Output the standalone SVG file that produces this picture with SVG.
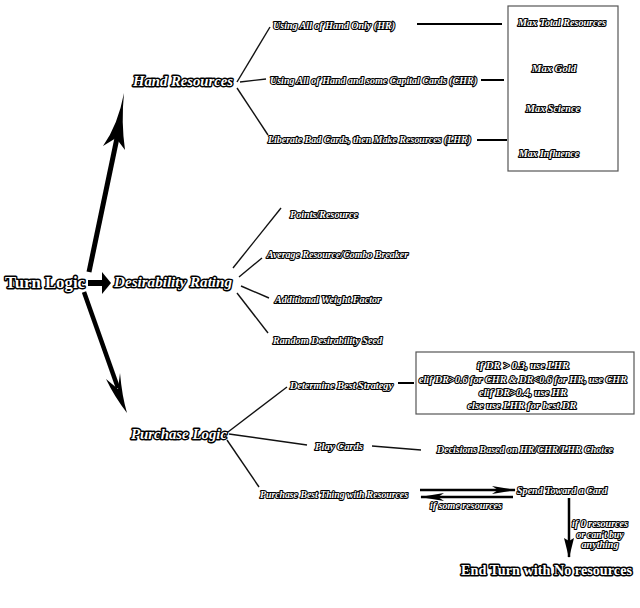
<svg xmlns="http://www.w3.org/2000/svg" width="640" height="608" viewBox="0 0 640 608">
<style>
text{font-family:"Liberation Serif","DejaVu Serif",serif;font-weight:bold;fill:#fff;stroke:#000;paint-order:stroke;stroke-linejoin:round}
.big{font-size:17.5px;stroke-width:3}
.mid{font-size:15px;font-style:italic;stroke-width:2.8}
.sm{font-size:10.5px;font-style:italic;stroke-width:2.2}
.c{text-anchor:middle}
.ln{stroke:#111;stroke-width:1.4;fill:none}
.lnb{stroke:#000;stroke-width:2;fill:none}
.box{fill:#fff;stroke:#555;stroke-width:1.2}
</style>
<defs>
<marker id="barb" viewBox="0 0 24 8" refX="23" refY="4" markerUnits="userSpaceOnUse" markerWidth="24" markerHeight="8" orient="auto">
<path d="M0,0 L24,4 L0,8 L6,4 Z" fill="#000"/>
</marker>
<marker id="barbd" viewBox="0 0 20 10" refX="19" refY="5" markerUnits="userSpaceOnUse" markerWidth="20" markerHeight="10" orient="auto">
<path d="M0,0 L20,5 L0,10 L3,5 Z" fill="#000"/>
</marker>
</defs>
<rect width="640" height="608" fill="#fff"/>
<g id="connectors">
<line x1="89" y1="272" x2="117" y2="138" stroke="#000" stroke-width="5"/>
<path d="M124,93 Q118,125 103,146 L116,138 L125,150 Q121,122 124,93 Z" fill="#000"/>
<line x1="84" y1="292" x2="118" y2="388" stroke="#000" stroke-width="4.5"/>
<path d="M127,413 Q114,396 106,379 L118,389 L120,373 Q122,396 127,413 Z" fill="#000"/>
<line x1="88" y1="283" x2="104" y2="283" stroke="#000" stroke-width="6"/>
<path d="M102,272 L111,283 L102,294 Z" fill="#000"/>
<line class="ln" x1="237" y1="82" x2="270" y2="27"/>
<line class="ln" x1="240" y1="82" x2="266" y2="79"/>
<line class="ln" x1="237" y1="88" x2="268" y2="135"/>
<line class="lnb" x1="417" y1="24" x2="502" y2="24"/>
<line class="lnb" x1="481" y1="80" x2="504" y2="80"/>
<line class="lnb" x1="477" y1="140" x2="507" y2="140"/>
<line class="ln" x1="233" y1="268" x2="281" y2="208"/>
<line class="ln" x1="239" y1="277" x2="262" y2="258"/>
<line class="ln" x1="241" y1="286" x2="269" y2="298"/>
<line class="ln" x1="237" y1="293" x2="268" y2="333"/>
<line class="ln" x1="228" y1="432" x2="287" y2="387"/>
<line class="ln" x1="229" y1="434" x2="307" y2="445"/>
<line class="ln" x1="227" y1="440" x2="259" y2="487"/>
<line class="lnb" x1="398" y1="383" x2="414" y2="383"/>
<line class="ln" x1="372" y1="446" x2="421" y2="450"/>
<line x1="420" y1="490" x2="515" y2="490" stroke="#000" stroke-width="2.5" marker-end="url(#barb)"/>
<line x1="513" y1="497" x2="421" y2="497" stroke="#000" stroke-width="2.5" marker-end="url(#barb)"/>
<line x1="569" y1="498" x2="569" y2="557" stroke="#000" stroke-width="2.5" marker-end="url(#barbd)"/>
</g>
<g id="turn-logic"><text class="big" x="5" y="288" textLength="80" lengthAdjust="spacingAndGlyphs">Turn Logic</text></g>
<g id="hand-resources"><text class="mid" x="133" y="86" textLength="100" lengthAdjust="spacingAndGlyphs">Hand Resources</text></g>
<g id="desirability-rating"><text class="mid" x="114" y="287" textLength="118" lengthAdjust="spacingAndGlyphs">Desirability Rating</text></g>
<g id="purchase-logic"><text class="mid" x="131" y="439" textLength="96" lengthAdjust="spacingAndGlyphs">Purchase Logic</text></g>
<g id="hr"><text class="sm" x="273" y="29" textLength="122" lengthAdjust="spacingAndGlyphs">Using All of Hand Only (HR)</text></g>
<g id="chr"><text class="sm" x="270" y="84" textLength="207" lengthAdjust="spacingAndGlyphs">Using All of Hand and some Capital Cards (CHR)</text></g>
<g id="lhr"><text class="sm" x="268" y="143" textLength="203" lengthAdjust="spacingAndGlyphs">Liberate Bad Cards, then Make Resources (LHR)</text></g>
<g id="max-box">
<rect class="box" x="508" y="6" width="110" height="165"/>
<text class="sm c" x="562" y="26" textLength="88" lengthAdjust="spacingAndGlyphs">Max Total Resources</text>
<text class="sm c" x="554" y="72" textLength="44" lengthAdjust="spacingAndGlyphs">Max Gold</text>
<text class="sm c" x="553" y="112" textLength="54" lengthAdjust="spacingAndGlyphs">Max Science</text>
<text class="sm c" x="549" y="157" textLength="60" lengthAdjust="spacingAndGlyphs">Max Influence</text>
</g>
<g id="points"><text class="sm" x="290" y="218" textLength="68" lengthAdjust="spacingAndGlyphs">Points/Resource</text></g>
<g id="average"><text class="sm" x="267" y="258" textLength="141" lengthAdjust="spacingAndGlyphs">Average Resource/Combo Breaker</text></g>
<g id="weight"><text class="sm" x="275" y="303" textLength="106" lengthAdjust="spacingAndGlyphs">Additional Weight Factor</text></g>
<g id="seed"><text class="sm" x="273" y="344" textLength="109" lengthAdjust="spacingAndGlyphs">Random Desirability Seed</text></g>
<g id="strategy"><text class="sm" x="290" y="389" textLength="103" lengthAdjust="spacingAndGlyphs">Determine Best Strategy</text></g>
<g id="strategy-box">
<rect class="box" x="416" y="352" width="218" height="62"/>
<text class="sm c" x="523" y="369" textLength="92" lengthAdjust="spacingAndGlyphs">if DR &gt; 0.3, use LHR</text>
<text class="sm c" x="523" y="383" textLength="208" lengthAdjust="spacingAndGlyphs">elif DR&gt;0.6 for CHR &amp; DR&lt;0.6 for HR, use CHR</text>
<text class="sm c" x="523" y="396" textLength="88" lengthAdjust="spacingAndGlyphs">elif DR&gt;0.4, use HR</text>
<text class="sm c" x="522" y="409" textLength="109" lengthAdjust="spacingAndGlyphs">else use LHR for best DR</text>
</g>
<g id="play-cards"><text class="sm" x="315" y="450" textLength="48" lengthAdjust="spacingAndGlyphs">Play Cards</text></g>
<g id="decisions"><text class="sm" x="437" y="453" textLength="176" lengthAdjust="spacingAndGlyphs">Decisions Based on HR/CHR/LHR Choice</text></g>
<g id="purchase-best"><text class="sm" x="260" y="498" textLength="148" lengthAdjust="spacingAndGlyphs">Purchase Best Thing with Resources</text></g>
<g id="spend"><text class="sm" x="517" y="494" textLength="90" lengthAdjust="spacingAndGlyphs">Spend Toward a Card</text></g>
<g id="labels">
<text class="sm c" x="466" y="509" textLength="72" lengthAdjust="spacingAndGlyphs">if some resources</text>
<text class="sm c" x="600" y="527" textLength="56" lengthAdjust="spacingAndGlyphs">if 0 resources</text>
<text class="sm c" x="600" y="538" textLength="47" lengthAdjust="spacingAndGlyphs">or can't buy</text>
<text class="sm c" x="600" y="548" textLength="37" lengthAdjust="spacingAndGlyphs">anything</text>
</g>
<g id="end-turn"><text class="big" x="461" y="575" textLength="171" lengthAdjust="spacingAndGlyphs" style="font-size:14.5px">End Turn with No resources</text></g>
</svg>
